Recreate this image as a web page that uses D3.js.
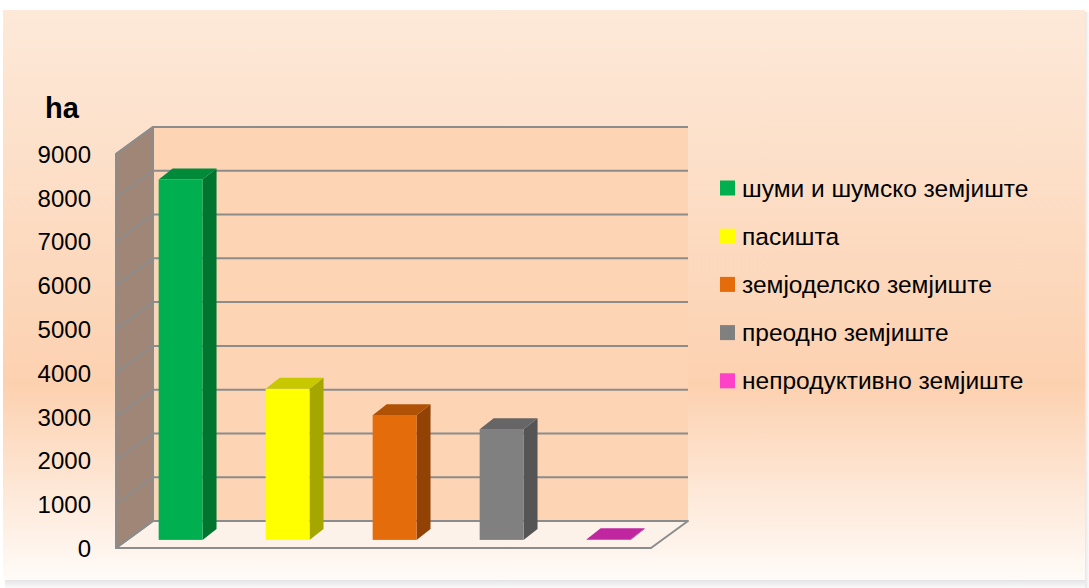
<!DOCTYPE html>
<html>
<head>
<meta charset="utf-8">
<script src="https://cdn.jsdelivr.net/npm/d3@7/dist/d3.min.js"></script>
<style>
  html, body { margin: 0; padding: 0; background: #ffffff; }
  svg { display: block; }
</style>
</head>
<body>
<svg id="chart" width="1089" height="588"></svg>
<script>
// ---- data ----
const categories = ["шуми и шумско земјиште", "пасишта", "земјоделско земјиште", "преодно земјиште", "непродуктивно земјиште"];
const values = [8230, 3450, 2850, 2530, 15];
const tickValues = [0, 1000, 2000, 3000, 4000, 5000, 6000, 7000, 8000, 9000];
const frontColors = ["#00b050", "#ffff00", "#e46c0a", "#808080", "#c4259e"];
const sideColors  = ["#00752f", "#a6a600", "#924205", "#555555", "#8a1a70"];
const topColors   = ["#008a3a", "#c8c800", "#b05206", "#666666", "#c026a0"];
const legendColors = ["#00b050", "#ffff00", "#e46c0a", "#808080", "#ff40c8"];
const unitLabel = "ha";

const svg = d3.select("#chart");
const defs = svg.append("defs");

// background gradient
const bg = defs.append("linearGradient").attr("id", "bg").attr("x1", 0).attr("y1", 0).attr("x2", 0).attr("y2", 1);
bg.append("stop").attr("offset", "0%").attr("stop-color", "#fde9d9");
bg.append("stop").attr("offset", "66%").attr("stop-color", "#fcd1b0");
bg.append("stop").attr("offset", "100%").attr("stop-color", "#fffbf8");

const sh = defs.append("linearGradient").attr("id", "shb").attr("x1", 0).attr("y1", 0).attr("x2", 0).attr("y2", 1);
sh.append("stop").attr("offset", "0%").attr("stop-color", "#e4e4e4");
sh.append("stop").attr("offset", "100%").attr("stop-color", "#fafafa");
const shr = defs.append("linearGradient").attr("id", "shr").attr("x1", 0).attr("y1", 0).attr("x2", 1).attr("y2", 0);
shr.append("stop").attr("offset", "0%").attr("stop-color", "#e6e6e6");
shr.append("stop").attr("offset", "100%").attr("stop-color", "#fbfbfb");

// shadow
svg.append("rect").attr("x", 5).attr("y", 580).attr("width", 1084).attr("height", 8).attr("fill", "url(#shb)");
svg.append("rect").attr("x", 1085).attr("y", 12).attr("width", 4).attr("height", 576).attr("fill", "url(#shr)");
svg.append("rect").attr("x", 3).attr("y", 10).attr("width", 1082).attr("height", 570).attr("fill", "url(#bg)");

// ---- geometry ----
const DX = 37, DY = 27;           // floor depth projection
const yFront = d3.scaleLinear().domain([0, 9000]).range([548, 154]);
const xFront = d3.scaleBand().domain(categories).range([116, 651]).paddingInner(0.59).paddingOuter(0.295);
const proj = (x, y, t) => [x + t * DX, y - t * DY];

const gridColor = "#8c8c8c";

// back wall
const [bx0, by0] = proj(116, yFront(9000), 1);
const [bx1, by1] = proj(651, yFront(0), 1);
svg.append("rect").attr("x", bx0).attr("y", by0).attr("width", bx1 - bx0).attr("height", by1 - by0).attr("fill", "#fdd4b4");

// side wall
const sideWall = [proj(116, yFront(9000), 0), proj(116, yFront(9000), 1), proj(116, yFront(0), 1), proj(116, yFront(0), 0)];
svg.append("polygon").attr("points", sideWall.map(p => p.join(",")).join(" ")).attr("fill", "#a08676")
  .attr("stroke", gridColor).attr("stroke-width", 2).attr("stroke-linejoin", "round");

// floor
const floor = [proj(116, yFront(0), 0), proj(116, yFront(0), 1), proj(651, yFront(0), 1), proj(651, yFront(0), 0)];
svg.append("polygon").attr("points", floor.map(p => p.join(",")).join(" ")).attr("fill", "#fdf2ea")
  .attr("stroke", gridColor).attr("stroke-width", 2).attr("stroke-linejoin", "round");

// gridlines
const grid = svg.append("g");
tickValues.forEach(v => {
  const a = proj(116, yFront(v), 0), b = proj(116, yFront(v), 1), c = proj(651, yFront(v), 1);
  grid.append("polyline").attr("points", [a, b, c].map(p => p.join(",")).join(" "))
    .attr("fill", "none").attr("stroke", gridColor).attr("stroke-width", 2);
});

// axis labels
const axis = d3.axisLeft(yFront).tickValues(tickValues).tickSize(0).tickPadding(0).tickFormat(d3.format("d"));
const ag = svg.append("g").attr("transform", "translate(91,0)").call(axis);
ag.select(".domain").remove();
ag.selectAll("text").attr("font-family", "Liberation Sans, Arial, sans-serif").attr("font-size", 24).attr("fill", "#000").attr("dy", "0.35em");

svg.append("text").attr("x", 45).attr("y", 118).text(unitLabel)
  .attr("font-family", "Liberation Sans, Arial, sans-serif").attr("font-weight", "bold").attr("font-size", 29).attr("fill", "#000");

// bars
const tBar = 0.3, bdx = 14, bdy = 11;
const bars = svg.append("g");
categories.forEach((c, i) => {
  const [x0, yb] = proj(xFront(c), yFront(0), tBar);
  const [, yt] = proj(xFront(c), yFront(values[i]), tBar);
  const w = xFront.bandwidth();
  const g = bars.append("g");
  g.append("polygon").attr("points", [[x0 + w, yt], [x0 + w + bdx, yt - bdy], [x0 + w + bdx, yb - bdy], [x0 + w, yb]].map(p => p.join(",")).join(" "))
    .attr("fill", sideColors[i]);
  g.append("rect").attr("x", x0).attr("y", yt).attr("width", w).attr("height", Math.max(0, yb - yt)).attr("fill", frontColors[i]);
  g.append("polygon").attr("points", [[x0, yt], [x0 + bdx, yt - bdy], [x0 + w + bdx, yt - bdy], [x0 + w, yt]].map(p => p.join(",")).join(" "))
    .attr("fill", topColors[i]);
});

// legend
const lg = svg.append("g");
categories.forEach((c, i) => {
  const y = 188 + i * 48.2;
  lg.append("rect").attr("x", 720).attr("y", y - 7.5).attr("width", 15).attr("height", 15).attr("fill", legendColors[i]);
  lg.append("text").attr("x", 742).attr("y", y).attr("dy", "0.35em").text(c)
    .attr("font-family", "Liberation Sans, Arial, sans-serif").attr("font-size", 24.5).attr("fill", "#000");
});
</script>
</body>
</html>
